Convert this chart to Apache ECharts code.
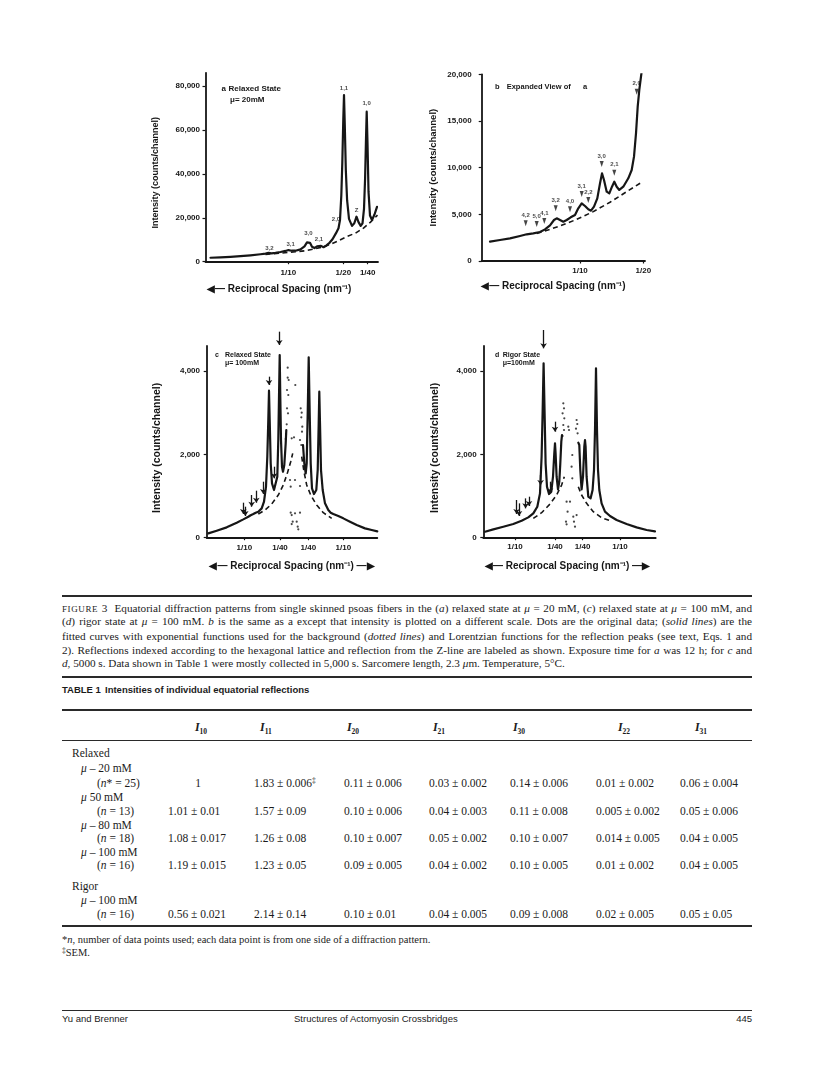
<!DOCTYPE html>
<html lang="en">
<head>
<meta charset="utf-8">
<title>Figure 3 – Equatorial diffraction patterns; Table 1</title>
<script src="https://cdn.jsdelivr.net/npm/echarts@6/dist/echarts.min.js"></script>
<style>
html,body{margin:0;padding:0;background:#fff;}
#page{position:relative;width:816px;height:1090px;overflow:hidden;background:#fff;}
#chart{position:absolute;left:0;top:0;width:816px;height:592px;}
.tx{position:absolute;white-space:nowrap;color:#1b1b1b;font-family:"Liberation Serif","Times New Roman",serif;font-size:11.5px;line-height:14px;height:14px;}
.cap{position:absolute;left:62px;width:690px;color:#1b1b1b;font-family:"Liberation Serif","Times New Roman",serif;font-size:11.2px;line-height:14px;height:14px;text-align:justify;text-align-last:justify;}
.cap.last{text-align-last:left;}
.rule{position:absolute;left:62px;width:690px;background:#2a2a2a;}
.sans{font-family:"Liberation Sans",Arial,Helvetica,sans-serif;}
.sub{font-size:7.5px;position:relative;top:3px;font-weight:bold;}
.sup{font-size:7.5px;position:relative;top:-4px;}
</style>
</head>
<body>
<div id="page">
  <div id="chart"></div>
  <div id="text"></div>
</div>
<script>
const INK = '#161616';
const SANS = '"Liberation Sans", Arial, Helvetica, sans-serif';

/* ================= DATA (channel, intensity) ================= */
/* Panel a: relaxed state, mu = 20 mM */
const aYTicks = [0, 20000, 40000, 60000, 80000];
const aYTickLabels = ['0', '20,000', '40,000', '60,000', '80,000'];
const aXTicks = [82.8, 137.8, 162.2];
const aXTickLabels = ['1/10', '1/20', '1/40'];
const aFit = [[5,1800],[15,2000],[25,2200],[35,2500],[45,2900],[55,3400],[60,3700],[63,4000],[66,3800],[70,4000],[75,4400],[80,4900],[83,5300],[86,5000],[90,5000],[95,5600],[99,7000],[101.5,8800],[103,9400],[104.5,8600],[106.5,6800],[109,6200],[111.5,7000],[113.5,7800],[115.5,7200],[118,6600],[121,7400],[124,8600],[127,10200],[130.5,13000],[133,15200],[134.5,19000],[135.8,30000],[136.8,45000],[137.8,65000],[138.5,75900],[139.3,62000],[140.3,42000],[141.6,28000],[143.5,19500],[146.5,16300],[148.8,17500],[151,20500],[153,18000],[155.2,16300],[157,17500],[158.5,24000],[159.6,38000],[160.5,56000],[161.2,68300],[162,54000],[163,32000],[164.5,21000],[166.5,19000],[169,21500],[171.5,25000]];
const aBackground = [[60,3300],[75,3900],[90,4500],[100,5000],[110,5900],[118,6800],[126,8100],[134,9800],[142,11600],[150,13000],[158,15300],[165,18000],[172,21200]];
const aReflNames = ['3,2','3,1','3,0','2,1','2,0','1,1','Z','1,0'];
const aReflCh = [63.8, 85.2, 102.8, 113.5, 130.5, 138.5, 151.2, 161.2];
const aReflI = [6100, 8000, 12900, 10300, 19400, 79000, 23500, 72100];

/* Panel b: expanded view of a */
const bYTicks = [0, 5000, 10000, 15000, 20000];
const bYTickLabels = ['0', '5,000', '10,000', '15,000', '20,000'];
const bXTicks = [98.3, 161.6];
const bXTickLabels = ['1/10', '1/20'];
const bFit = [[8.3,2070],[18.3,2250],[28.3,2430],[38.3,2680],[45,2860],[51.6,2960],[58.3,3110],[63.3,3390],[68.3,3820],[72.3,4390],[75,4570],[78.3,4390],[81.6,4210],[85,4390],[89,4680],[93.3,4930],[96.6,5640],[100,6180],[103.3,5890],[106.6,5540],[109.3,5390],[112.3,5820],[115.6,6710],[118.3,8320],[120.3,9390],[122.3,8680],[125,7430],[127.6,7250],[130.3,7960],[132.6,8500],[135,7960],[137.6,7610],[141.6,7960],[146.6,8860],[150,9750],[152.3,11180],[154.3,13680],[156,16540],[157.6,18320],[159.3,19750],[160.6,20800]];
const bBackground = [[55,2960],[68.3,3390],[78.3,3750],[95,4460],[111.6,5290],[128.3,6290],[145,7430],[161,8500]];
const bReflNames = ['4,2','5,0','4,1','3,2','4,0','3,1','2,2','3,0','2,1','2,0'];
const bReflCh = [44, 55, 62.6, 74, 88.3, 100, 106.6, 120, 132.6, 155];
const bReflI = [4036, 3964, 4286, 5643, 5536, 7180, 6536, 10390, 9464, 18140];

/* Panel c: relaxed state, mu = 100 mM (both sides of pattern) */
const cdYTicks = [0, 2000, 4000];
const cdYTickLabels = ['0', '2,000', '4,000'];
const cXTicks = [37.7, 73.3, 101.6, 136.6];
const cXTickLabels = ['1/10', '1/40', '1/40', '1/10'];
const cFitLeft = [[1.6,104],[10,168],[20,248],[30,360],[36.6,440],[41.6,504],[44,540],[46.6,568],[49,600],[51.6,624],[55,704],[57.3,864],[59.3,1224],[60.6,1944],[61.6,2824],[62.3,3528],[63,2824],[64,1784],[65.3,1304],[67.3,1144],[69.3,1160],[70.6,1464],[71.6,2344],[72.3,3384],[73,4384],[73.6,3384],[74.3,2344],[75.3,1704],[76.3,1584],[77.6,1744],[79,2264],[79.6,2584]];
const cFitRight = [[96.3,2224],[97.6,1784],[99,1544],[100,1784],[101,2984],[102,4328],[103,2984],[104,1784],[105.3,1184],[107.3,1048],[109.6,1144],[111,1624],[112,2744],[112.6,3504],[113.3,2744],[114.3,1624],[116,1144],[118.3,824],[121.6,664],[124,600],[126.6,568],[131.6,520],[136.6,464],[143.3,384],[150,304],[158.3,224],[165,184],[170.6,152]];
const cBgLeft = [[51.6,568],[58.3,664],[65,808],[71.6,1024],[76.6,1264],[80.6,1544],[84,1824],[86,2024]];
const cBgRight = [[95,1944],[97.3,1584],[100,1264],[104,1024],[110,784],[116.6,600],[125,464]];
const cDots = [[81,4080],[81,3840],[82,3784],[80.3,3544],[81.6,3424],[80.3,3104],[81.3,2984],[80,2720],[79.3,2488],[79,2368],[85,2384],[87.3,2408],[88.6,3664],[94,3104],[95,3000],[94.6,2888],[95.6,2664],[95.3,2544],[93.3,2344],[94.6,2224],[83.3,1384],[88.3,1384],[84,1224],[93.3,1240],[84,600],[85,544],[86,384],[85,328],[88.3,584],[93.3,600],[90,384],[91,264],[91.6,200]];
const cArrows = [[72.6,4944,4624],[62.3,3864,3664],[67.3,1704,1424],[56.6,1344,1048],[49.6,1128,840],[45,1024,744],[36.6,840,568],[38.6,744,520]];

/* Panel d: rigor state, mu = 100 mM */
const dXTicks = [31.7, 71.7, 99.3, 136.7];
const dXTickLabels = ['1/10', '1/40', '1/40', '1/10'];
const dFitLeft = [[1.7,144],[10,200],[20,264],[30,328],[38.3,408],[45,488],[50,584],[54,744],[56.7,1064],[58.3,1944],[59.3,2984],[60.3,4184],[61.3,2984],[62.3,1784],[63.7,1224],[65.7,1048],[68,1104],[69.7,1464],[71,2024],[71.7,2264],[72.3,2024],[73.3,1464],[74.7,1160],[76,1344],[77,1784],[78,2304],[78.7,2464]];
const dFitRight = [[95,2280],[96,2224],[97,1624],[98.3,1160],[99.7,1464],[101,2184],[101.7,2344],[102.3,2184],[103.3,1464],[105,984],[107.3,944],[109.3,1144],[110.7,1624],[111.7,2584],[112.7,4064],[113.7,2584],[114.7,1624],[116,1144],[118.3,824],[121.7,624],[126.7,520],[133.3,424],[143.3,328],[153.3,248],[163.3,184],[171.7,152]];
const dBgLeft = [[50,464],[58.3,600],[66.7,808],[73.3,1024],[78.3,1264],[81,1464]];
const dBgRight = [[95,1224],[98.3,1024],[103.3,824],[110,624],[118.3,480],[126.7,408]];
const dDots = [[80,3224],[80.7,3104],[79.3,2984],[81,2864],[80,2704],[80.7,2584],[79.3,2440],[85,2664],[85.7,2584],[93.3,2824],[94,2728],[92.7,2616],[94.3,2504],[89,1984],[88.3,1704],[89,1424],[86.7,864],[83.3,864],[84.3,624],[82.7,384],[83.3,320],[90,504],[90.7,384],[91.7,264],[93.3,544]];
const dArrows = [[60.3,4984,4544],[71.7,2784,2544],[57.3,1504,1264],[66.7,1344,1064],[33.3,904,568],[35.7,824,520],[42.3,944,704],[45.7,984,760]];

/* Table 1 */
const tblHeads = ['10','11','20','21','30','22','31'];
const tblRowLabels = ['Relaxed','<i>μ</i> – 20 mM','(<i>n</i>* = 25)','<i>μ</i> 50 mM','(<i>n</i> = 13)','<i>μ</i> – 80 mM','(<i>n</i> = 18)','<i>μ</i> – 100 mM','(<i>n</i> = 16)','Rigor','<i>μ</i> – 100 mM','(<i>n</i> = 16)'];
const tblRowLevel = [0,1,2,1,2,1,2,1,2,0,1,2];
const tblValues = {
  2: ['1','1.83 ± 0.006<span class="sup">‡</span>','0.11 ± 0.006','0.03 ± 0.002','0.14 ± 0.006','0.01 ± 0.002','0.06 ± 0.004'],
  4: ['1.01 ± 0.01','1.57 ± 0.09','0.10 ± 0.006','0.04 ± 0.003','0.11 ± 0.008','0.005 ± 0.002','0.05 ± 0.006'],
  6: ['1.08 ± 0.017','1.26 ± 0.08','0.10 ± 0.007','0.05 ± 0.002','0.10 ± 0.007','0.014 ± 0.005','0.04 ± 0.005'],
  8: ['1.19 ± 0.015','1.23 ± 0.05','0.09 ± 0.005','0.04 ± 0.002','0.10 ± 0.005','0.01 ± 0.002','0.04 ± 0.005'],
  11:['0.56 ± 0.021','2.14 ± 0.14','0.10 ± 0.01','0.04 ± 0.005','0.09 ± 0.008','0.02 ± 0.005','0.05 ± 0.05']
};

/* ================= CHART ================= */
function lab(ticks, labels) {
  return function (v) {
    for (let i = 0; i < ticks.length; i++) if (Math.abs(ticks[i] - v) < 1e-6) return labels[i];
    return '';
  };
}
function xAxisCfg(gi, max, ticks, labels, margin, name, gap, pad) {
  return {
    type: 'value', gridIndex: gi, min: 0, max: max,
    axisLine: { show: true, onZero: false, lineStyle: { color: INK, width: 1.8 } },
    axisTick: { show: true, length: 2.5, customValues: ticks, lineStyle: { color: INK, width: 1.2 } },
    axisLabel: { show: true, customValues: ticks, margin: margin, formatter: lab(ticks, labels),
      color: INK, fontFamily: SANS, fontWeight: 'bold', fontSize: 8 },
    splitLine: { show: false },
    name: name, nameLocation: 'middle', nameGap: gap, nameMoveOverlap: false,
    nameTextStyle: { color: INK, fontFamily: SANS, fontWeight: 'bold', fontSize: 10, padding: pad }
  };
}
function yAxisCfg(gi, max, ticks, labels, margin, nameSize, gap, pad) {
  return {
    type: 'value', gridIndex: gi, min: 0, max: max,
    axisLine: { show: true, lineStyle: { color: INK, width: 1.8 } },
    axisTick: { show: true, length: 3, customValues: ticks, lineStyle: { color: INK, width: 1.2 } },
    axisLabel: { show: true, customValues: ticks, margin: margin, formatter: lab(ticks, labels),
      color: INK, fontFamily: SANS, fontWeight: 'bold', fontSize: 8 },
    splitLine: { show: false },
    name: 'Intensity (counts/channel)', nameLocation: 'middle', nameGap: gap, nameRotate: 90, nameMoveOverlap: false,
    nameTextStyle: { color: INK, fontFamily: SANS, fontWeight: 'bold', fontSize: nameSize, padding: pad }
  };
}
function fit(gi, data) {
  return { type: 'line', xAxisIndex: gi, yAxisIndex: gi, data: data, symbol: 'none', showSymbol: false,
    smooth: false, clip: true, silent: true, z: 3,
    lineStyle: { color: INK, width: 2.2, join: 'round', cap: 'round' } };
}
function bg(gi, data) {
  return { type: 'line', xAxisIndex: gi, yAxisIndex: gi, data: data, symbol: 'none', showSymbol: false,
    smooth: false, clip: true, silent: true, z: 2,
    lineStyle: { color: INK, width: 1.6, type: [5, 3.5] } };
}
function dots(gi, data) {
  return { type: 'scatter', xAxisIndex: gi, yAxisIndex: gi, data: data, symbol: 'circle', symbolSize: 2.2,
    itemStyle: { color: INK }, silent: true, z: 4 };
}
function arrows(gi, list) {
  return { type: 'lines', coordinateSystem: 'cartesian2d', xAxisIndex: gi, yAxisIndex: gi, clip: false,
    symbol: ['none', 'arrow'], symbolSize: 5, silent: true, z: 5,
    lineStyle: { color: INK, width: 1.3, opacity: 1 },
    data: list.map(a => ({ coords: [[a[0], a[1]], [a[0], a[2]]] })) };
}
const reflLabel = { show: true, formatter: '{b}', color: INK, fontFamily: SANS, fontWeight: 'bold', fontSize: 6 };

const GR = [
  { left: 205.5, top: 72.8, width: 172.5, height: 188.9 },
  { left: 481.7, top: 74.3, width: 163.3, height: 186.7 },
  { left: 206.7, top: 346, width: 170.6, height: 191.7 },
  { left: 483.3, top: 346, width: 172.4, height: 191.7 }
].map(g => Object.assign({ containLabel: false, outerBoundsMode: 'none', show: false }, g));

function hdr(x, y, t, size) {
  return { type: 'text', x: x, y: y, silent: true,
    style: { text: t, fill: INK, font: 'bold ' + size + 'px ' + SANS, textVerticalAlign: 'middle', textAlign: 'left' } };
}

const option = {
  animation: false,
  backgroundColor: '#fff',
  grid: GR,
  xAxis: [
    xAxisCfg(0, 172.5, aXTicks, aXTickLabels, 7.5, '◀— Reciprocal Spacing (nm⁻¹)', 23, [0, 25, 0, 0]),
    xAxisCfg(1, 163.3, bXTicks, bXTickLabels, 5.7, '◀— Reciprocal Spacing (nm⁻¹)', 20, [0, 20, 0, 0]),
    xAxisCfg(2, 170.6, cXTicks, cXTickLabels, 5.6, '◀— Reciprocal Spacing (nm⁻¹) —▶', 24, [0, 0, 0, 0]),
    xAxisCfg(3, 172.4, dXTicks, dXTickLabels, 5, '◀— Reciprocal Spacing (nm⁻¹) —▶', 24, [0, 4, 0, 0])
  ],
  yAxis: [
    yAxisCfg(0, 86000, aYTicks, aYTickLabels, 5.5, 9, 45, [0, 11, 0, 0]),
    yAxisCfg(1, 20000, bYTicks, bYTickLabels, 10, 9.5, 43, [0, 0, 0, 0]),
    yAxisCfg(2, 4600, cdYTicks, cdYTickLabels, 6.7, 10.5, 44, [0, 12, 0, 0]),
    yAxisCfg(3, 4600, cdYTicks, cdYTickLabels, 6.7, 10.5, 43, [0, 12, 0, 0])
  ],
  series: [
    bg(0, aBackground), fit(0, aFit),
    { type: 'scatter', xAxisIndex: 0, yAxisIndex: 0, symbolSize: 1, itemStyle: { color: 'rgba(0,0,0,0)' },
      data: aReflNames.map((n, i) => ({ name: n, value: [aReflCh[i], aReflI[i]] })),
      label: Object.assign({ position: 'inside' }, reflLabel), silent: true, z: 6 },
    bg(1, bBackground), fit(1, bFit),
    { type: 'scatter', xAxisIndex: 1, yAxisIndex: 1, symbol: 'triangle', symbolRotate: 180, symbolSize: [4, 6],
      itemStyle: { color: INK },
      data: bReflNames.map((n, i) => ({ name: n, value: [bReflCh[i], bReflI[i]] })),
      label: Object.assign({ position: 'top', distance: 2 }, reflLabel), silent: true, z: 6 },
    bg(2, cBgLeft), bg(2, cBgRight), fit(2, cFitLeft), fit(2, cFitRight), dots(2, cDots), arrows(2, cArrows),
    bg(3, dBgLeft), bg(3, dBgRight), fit(3, dFitLeft), fit(3, dFitRight), dots(3, dDots), arrows(3, dArrows)
  ],
  graphic: [
    hdr(221.5, 88.5, 'a', 8), hdr(228.5, 88.5, 'Relaxed State', 8), hdr(230, 99.5, 'μ= 20mM', 8),
    hdr(495, 86.7, 'b', 7.5), hdr(506.7, 86.7, 'Expanded View of', 7.5), hdr(583, 86.7, 'a', 7.5),
    hdr(215, 355, 'c', 7), hdr(225, 355, 'Relaxed State', 7), hdr(225, 363.5, 'μ= 100mM', 7),
    hdr(495, 355, 'd', 7), hdr(502.7, 355, 'Rigor State', 7), hdr(502.7, 363.5, 'μ=100mM', 7)
  ]
};
const chart = echarts.init(document.getElementById('chart'), null, { renderer: 'canvas' });
chart.setOption(option);

/* ================= CAPTION, TABLE, FOOTER ================= */
const capLines = [
  '<span style="font-size:9px;letter-spacing:0.6px">FIGURE</span> 3&nbsp;&nbsp;Equatorial diffraction patterns from single skinned psoas fibers in the (<i>a</i>) relaxed state at <i>μ</i> = 20 mM, (<i>c</i>) relaxed state at <i>μ</i> = 100 mM, and',
  '(<i>d</i>) rigor state at <i>μ</i> = 100 mM. <i>b</i> is the same as a except that intensity is plotted on a different scale. Dots are the original data; (<i>solid lines</i>) are the',
  'fitted curves with exponential functions used for the background (<i>dotted lines</i>) and Lorentzian functions for the reflection peaks (see text, Eqs. 1 and',
  '2). Reflections indexed according to the hexagonal lattice and reflection from the Z-line are labeled as shown. Exposure time for <i>a</i> was 12 h; for <i>c</i> and',
  '<i>d</i>, 5000 s. Data shown in Table 1 were mostly collected in 5,000 s. Sarcomere length, 2.3 <i>μ</i>m. Temperature, 5°C.'
];
const capY = [607.5, 621.3, 635.5, 649.5, 663.3];
const rowY = [753, 768, 783, 797, 811, 824.5, 838, 851.5, 865, 886, 899.5, 913.5];
const levelX = [72, 81, 97];
const colX = [168, 254, 344, 429, 510, 596, 680];
const headX = [201, 266, 353, 439, 519, 624, 701];

let html = '';
function rule(y, h) { html += `<div class="rule" style="top:${y - h / 2}px;height:${h}px"></div>`; }
function tx(x, y, s, extra) { html += `<div class="tx" style="left:${x}px;top:${y - 7}px;${extra || ''}">${s}</div>`; }

rule(596, 1.5);
capLines.forEach((l, i) => {
  html += `<div class="cap${i === capLines.length - 1 ? ' last' : ''}" style="top:${capY[i] - 7}px">${l}</div>`;
});
rule(677, 1.5);
tx(62, 690, '<b>TABLE 1</b>', 'font-family:' + SANS.replace(/"/g, "'") + ';font-size:9.5px;');
tx(105, 690, '<b>Intensities of individual equatorial reflections</b>', 'font-family:' + SANS.replace(/"/g, "'") + ';font-size:9.5px;');
rule(710, 2);
tblHeads.forEach((h, i) => {
  html += `<div class="tx" style="left:${headX[i] - 20}px;width:40px;text-align:center;top:${727 - 7}px;font-size:12px"><b><i>I</i></b><span class="sub">${h}</span></div>`;
});
rule(740, 1);
tblRowLabels.forEach((l, r) => {
  tx(levelX[tblRowLevel[r]], rowY[r], l);
  const vals = tblValues[r];
  if (vals) {
    vals.forEach((v, c) => {
      if (c === 0 && v === '1') {
        html += `<div class="tx" style="left:${colX[0]}px;width:60px;text-align:center;top:${rowY[r] - 7}px">${v}</div>`;
      } else {
        tx(colX[c], rowY[r], v);
      }
    });
  }
});
rule(926, 2);
tx(62, 939.5, '*<i>n</i>, number of data points used; each data point is from one side of a diffraction pattern.', 'font-size:10.5px;');
tx(62, 953, '<span class="sup" style="top:-3px">‡</span>SEM.', 'font-size:10.5px;');
rule(1010, 1);
const sansStyle = 'font-family:' + SANS.replace(/"/g, "'") + ';font-size:9.5px;';
tx(62, 1019, 'Yu and Brenner', sansStyle);
tx(294, 1019, 'Structures of Actomyosin Crossbridges', sansStyle);
html += `<div class="tx" style="left:652px;width:100px;text-align:right;top:${1019 - 7}px;${sansStyle}">445</div>`;
document.getElementById('text').innerHTML = html;
</script>
</body>
</html>
